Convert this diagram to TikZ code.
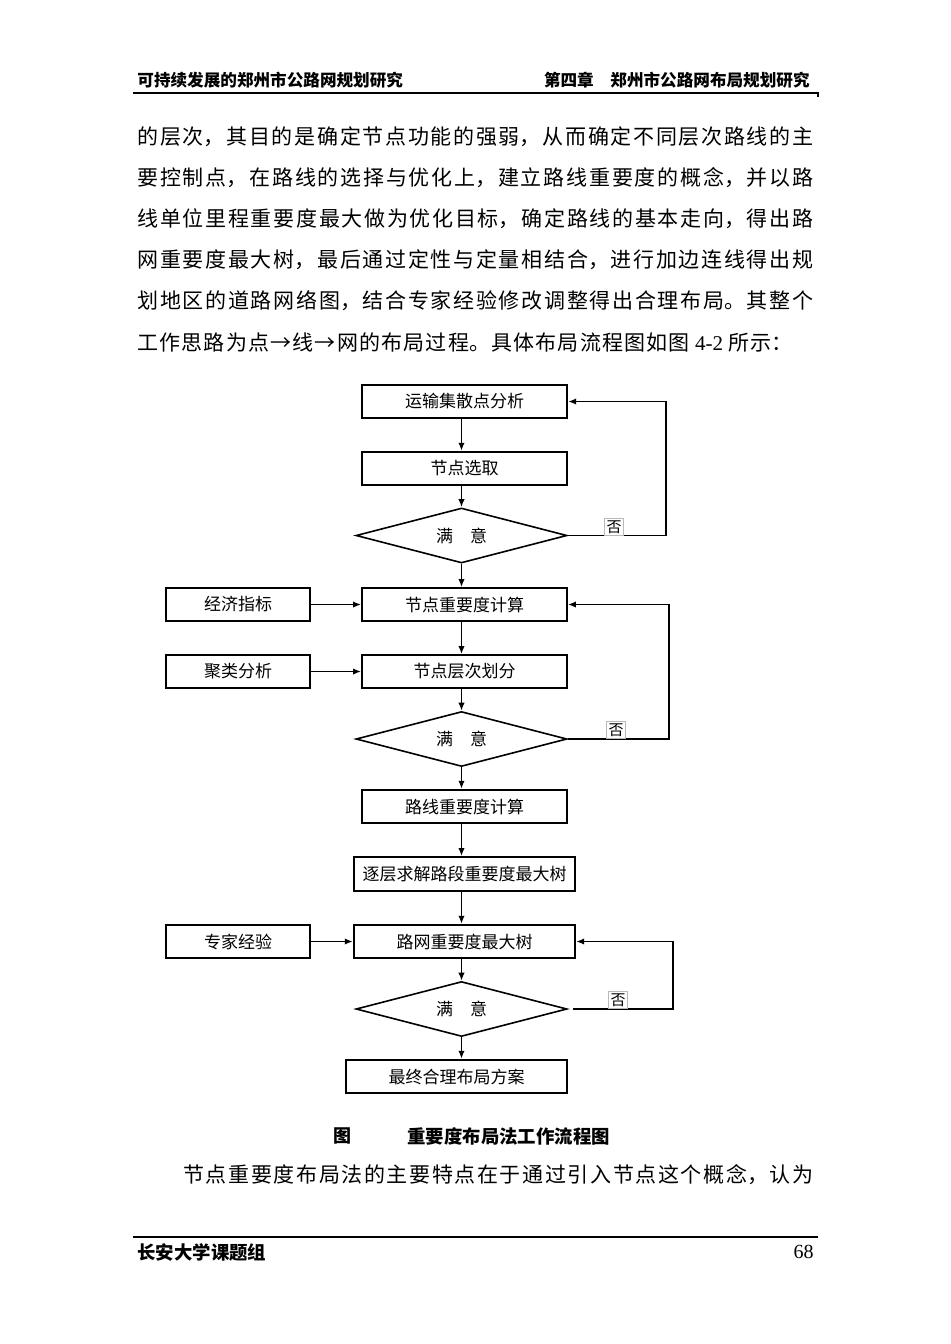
\documentclass[tikz,border=0pt]{standalone}
\usepackage{fontspec}
\setmainfont{Noto Sans CJK SC}
\newfontfamily\tnr{Liberation Serif}
\usetikzlibrary{shapes.geometric,arrows.meta}
\XeTeXlinebreaklocale "zh"
\XeTeXlinebreakskip=0pt plus 3pt
\newcommand{\jline}[2]{\parbox{#1}{\parindent=0pt\parfillskip=0pt\relax #2}}
\tikzset{
  box/.style={draw, line width=1.2pt, minimum height=16.5pt, inner sep=0pt, font=\fontsize{8.5}{10}\selectfont},
  tbox/.style={box, line width=0.9pt},
  dia/.style={draw, diamond, aspect=3.8, line width=0.8pt, inner sep=0pt, minimum width=105.5pt, minimum height=27.5pt, font=\fontsize{8.5}{10}\selectfont},
  arr/.style={line width=0.8pt, -{Latex[length=4pt,width=3.2pt]}},
  nolab/.style={draw=gray!55, line width=0.3pt, inner sep=1pt, font=\fontsize{7.5}{8}\selectfont},
  body/.style={anchor=west, inner sep=0pt, font=\fontsize{10.5}{12}\selectfont},
  hdr/.style={inner sep=0pt, font=\fontsize{8.3}{10}\selectfont\bfseries}
}
\begin{document}
\begin{tikzpicture}[x=0.5pt,y=-0.5pt]
\fill[white] (0,0) rectangle (950,1344);
\useasboundingbox (0,0) rectangle (950,1344);
% header
\node[hdr, anchor=west] (h1) at (137,80) {可持续发展的郑州市公路网规划研究};
\node[hdr, anchor=east] (h2) at (810,80) {第四章　郑州市公路网布局规划研究};
\draw[line width=0.8pt] (133,93) -- (818,93) -- (818,97);
% body text
\node[body] (t1) at (137,137) {\jline{338pt}{的层次，其目的是确定节点功能的强弱，从而确定不同层次路线的主}};
\node[body] (t2) at (137,178) {\jline{338pt}{要控制点，在路线的选择与优化上，建立路线重要度的概念，并以路}};
\node[body] (t3) at (137,219) {\jline{338pt}{线单位里程重要度最大做为优化目标，确定路线的基本走向，得出路}};
\node[body] (t4) at (137,260) {\jline{338pt}{网重要度最大树，最后通过定性与定量相结合，进行加边连线得出规}};
\node[body] (t5) at (137,301) {\jline{338pt}{划地区的道路网络图，结合专家经验修改调整得出合理布局。其整个}};
\node[body] (t6) at (137,342) {\jline{327.5pt}{工作思路为点→线→网的布局过程。具体布局流程图如图 {\tnr 4-2} 所示：}};
% flowchart
\node[box, minimum width=102.5pt] (b1) at (464.5,401.5) {运输集散点分析};
\node[box, minimum width=102.5pt] (b2) at (464.5,468.5) {节点选取};
\node[dia] (d1) at (461.5,535.5) {满　意};
\node[tbox, minimum width=102.5pt] (b3) at (464.5,604.5) {节点重要度计算};
\node[tbox, minimum width=72pt] (e1) at (238,604.5) {经济指标};
\node[tbox, minimum width=102.5pt] (b4) at (464.5,671.5) {节点层次划分};
\node[tbox, minimum width=72pt] (e2) at (238,671.5) {聚类分析};
\node[dia] (d2) at (461.5,739) {满　意};
\node[box, minimum width=102.5pt] (b5) at (464.5,806.5) {路线重要度计算};
\node[tbox, minimum width=110.5pt, minimum height=17pt] (b6) at (464.5,874) {逐层求解路段重要度最大树};
\node[box, minimum width=110.5pt] (b7) at (464.5,941.5) {路网重要度最大树};
\node[box, minimum width=72pt] (e3) at (238,941.5) {专家经验};
\node[dia] (d3) at (461.5,1009) {满　意};
\node[box, minimum width=110.5pt] (b8) at (456.5,1076.5) {最终合理布局方案};
% vertical arrows
\draw[arr] (b1.south -| d1.north) -- (b2.north -| d1.north);
\draw[arr] (b2.south -| d1.north) -- (d1.north);
\draw[arr] (d1.south) -- (b3.north -| d1.south);
\draw[arr] (b3.south -| d2.north) -- (b4.north -| d2.north);
\draw[arr] (b4.south -| d2.north) -- (d2.north);
\draw[arr] (d2.south) -- (b5.north -| d2.south);
\draw[arr] (b5.south -| d2.south) -- (b6.north -| d2.south);
\draw[arr] (b6.south -| d3.north) -- (b7.north -| d3.north);
\draw[arr] (b7.south -| d3.north) -- (d3.north);
\draw[arr] (d3.south) -- (b8.north -| d3.south);
% side inputs
\draw[arr] (e1) -- (b3);
\draw[arr] (e2) -- (b4);
\draw[arr] (e3) -- (b7);
% feedback loops
\draw[arr] (d1.east) -- ++(98,0) |- (b1.east);
\draw[arr] (d2.east) -- ++(101,0) |- (b3.east);
\draw[arr] ([xshift=2.5pt]d3.east) -- ++(100,0) |- (b7.east);
\node[nolab, anchor=south] (n1) at (614,535.5) {否};
\node[nolab, anchor=south] (n2) at (616,739) {否};
\node[nolab, anchor=south] (n3) at (618,1009) {否};
% caption
\node[inner sep=0pt, font=\fontsize{9}{10}\selectfont\bfseries] (c1) at (342,1136) {图};
\node[inner sep=0pt, anchor=west, font=\fontsize{9.2}{10}\selectfont\bfseries] (c2) at (407,1136) {重要度布局法工作流程图};
\node[body] (t7) at (183,1175) {\jline{315pt}{节点重要度布局法的主要特点在于通过引入节点这个概念，认为}};
% footer
\draw[line width=1pt] (133,1237) -- (818,1237);
\node[inner sep=0pt, anchor=west, font=\fontsize{9.2}{10}\selectfont\bfseries] (f1) at (137,1252) {长安大学课题组};
\node[inner sep=0pt, anchor=east, font=\fontsize{10}{10}\selectfont\tnr] (f2) at (814,1252) {68};
\end{tikzpicture}
\end{document}
